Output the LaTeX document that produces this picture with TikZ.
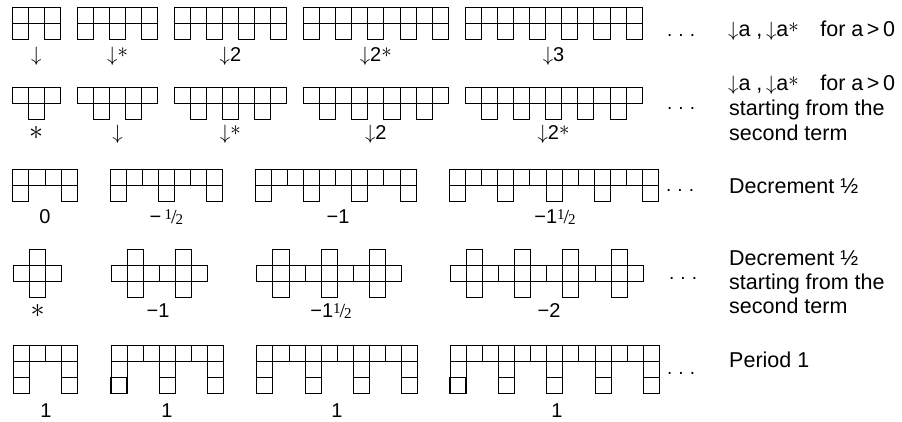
\documentclass[tikz,border=0pt]{standalone}
\usepackage{graphicx}
\usepackage{fontspec}
\setmainfont{Liberation Sans}
\newfontfamily\serifx{Liberation Serif}
\newcommand{\halfsym}{{\serifx\raisebox{0.42ex}{\fontsize{15}{15}\selectfont 1}\kern-1pt{\fontsize{20}{20}\selectfont/}\kern-1pt\raisebox{-0.2ex}{\fontsize{15}{15}\selectfont 2}}}
\newcommand{\stsup}{\raisebox{3.5pt}{\scalebox{1.45}{\fontsize{14}{14}\selectfont$\ast$}}}
\newcommand{\stalone}{\scalebox{1.35}{$\ast$}}
\begin{document}
\begin{tikzpicture}[x=1pt,y=-1pt,
  cellln/.style={draw=black,line width=0.75pt},
  thickcell/.style={draw=black,line width=1.3pt},
  lab/.style={anchor=base,inner sep=0pt,font=\fontsize{20}{20}\selectfont},
  side/.style={anchor=base west,inner sep=0pt,font=\fontsize{21.5}{21.5}\selectfont},
  dotty/.style={anchor=base west,inner sep=0pt,font=\fontsize{19}{19}\selectfont}]
\useasboundingbox (0,0) rectangle (902,421);
\def\cellsz{16.1}

% Row 1
\foreach \L/\n in {12/3,77.3/5,174/7,303.3/9,465/11}{
  \pgfmathtruncatemacro\lastc{\n-1}
  \pgfmathtruncatemacro\kk{(\n-1)/2}
  \foreach \c in {0,...,\lastc} \draw[cellln] (\L+\c*\cellsz,7.3) rectangle ++(\cellsz,\cellsz);
  \foreach \j in {0,...,\kk} \draw[cellln] (\L+2*\j*\cellsz,7.3+\cellsz) rectangle ++(\cellsz,\cellsz);
}
% Row 2
\foreach \L/\n in {12/3,77.3/5,174/7,303.3/9,465/11}{
  \pgfmathtruncatemacro\lastc{\n-1}
  \pgfmathtruncatemacro\kk{(\n-1)/2}
  \foreach \c in {0,...,\lastc} \draw[cellln] (\L+\c*\cellsz,87.3) rectangle ++(\cellsz,\cellsz);
  \foreach \j in {1,...,\kk} \draw[cellln] (\L+2*\j*\cellsz-\cellsz,87.3+\cellsz) rectangle ++(\cellsz,\cellsz);
}
% Row 3
\foreach \L/\n in {12.7/4,110/7,255/10,449.3/13}{
  \pgfmathtruncatemacro\lastc{\n-1}
  \pgfmathtruncatemacro\kk{(\n-1)/3}
  \foreach \c in {0,...,\lastc} \draw[cellln] (\L+\c*\cellsz,169.3) rectangle ++(\cellsz,\cellsz);
  \foreach \j in {0,...,\kk} \draw[cellln] (\L+3*\j*\cellsz,169.3+\cellsz) rectangle ++(\cellsz,\cellsz);
}
% Row 4
\foreach \L/\n in {13.3/3,111/6,256.7/9,450/12}{
  \pgfmathtruncatemacro\lastc{\n-1}
  \pgfmathtruncatemacro\kk{\n/3-1}
  \foreach \c in {0,...,\lastc} \draw[cellln] (\L+\c*\cellsz,265) rectangle ++(\cellsz,\cellsz);
  \foreach \j in {0,...,\kk} {
    \draw[cellln] (\L+3*\j*\cellsz+\cellsz,265-\cellsz) rectangle ++(\cellsz,\cellsz);
    \draw[cellln] (\L+3*\j*\cellsz+\cellsz,265+\cellsz) rectangle ++(\cellsz,\cellsz);
  }
}
% Row 5
\foreach \L/\n in {13.3/4,111/7,256.7/10,450/13}{
  \pgfmathtruncatemacro\lastc{\n-1}
  \pgfmathtruncatemacro\kk{(\n-1)/3}
  \foreach \c in {0,...,\lastc} \draw[cellln] (\L+\c*\cellsz,345) rectangle ++(\cellsz,\cellsz);
  \foreach \j in {0,...,\kk} {
    \draw[cellln] (\L+3*\j*\cellsz,345+\cellsz) rectangle ++(\cellsz,\cellsz);
    \draw[cellln] (\L+3*\j*\cellsz,345+2*\cellsz) rectangle ++(\cellsz,\cellsz);
  }
  \draw[thickcell] (\L,345+2*\cellsz) rectangle ++(\cellsz,\cellsz);
}

% Labels row 1
\node[lab] (a1) at (36.2,61) {$\downarrow$};
\node[lab] (a2) at (117.6,61) {$\downarrow$\stsup};
\node[lab] (a3) at (230.4,61) {$\downarrow$2};
\node[lab] (a4) at (375.8,61) {$\downarrow$2\stsup};
\node[lab] (a5) at (553.5,61) {$\downarrow$3};
% Labels row 2
\node[lab] (b1) at (36.2,139) {\stalone};
\node[lab] (b2) at (117.6,139) {$\downarrow$};
\node[lab] (b3) at (230.4,139) {$\downarrow$\stsup};
\node[lab] (b4) at (375.8,139) {$\downarrow$2};
\node[lab] (b5) at (553.5,139) {$\downarrow$2\stsup};
% Labels row 3
\node[lab] (c1) at (45,223) {0};
\node[lab] (c2) at (166.4,223) {−\,\halfsym};
\node[lab] (c3) at (338,223) {−1};
\node[lab] (c4) at (555,223) {−1\halfsym};
% Labels row 4
\node[lab] (d1) at (37.5,317) {\stalone};
\node[lab] (d2) at (158,317) {−1};
\node[lab] (d3) at (331,317) {−1\halfsym};
\node[lab] (d4) at (549,317) {−2};
% Labels row 5
\node[lab] (e1) at (46,417) {1};
\node[lab] (e2) at (167,417) {1};
\node[lab] (e3) at (337,417) {1};
\node[lab] (e4) at (557,417) {1};

% Dots
\node[dotty] (n1) at (667,36) {.\kern6pt.\kern6pt.};
\node[dotty] (n2) at (667,109) {.\kern6pt.\kern6pt.};
\node[dotty] (n3) at (666,191) {.\kern6pt.\kern6pt.};
\node[dotty] (n4) at (669,279) {.\kern6pt.\kern6pt.};
\node[dotty] (n5) at (667,374) {.\kern6pt.\kern6pt.};

% Side text
\node[side] (t1) at (728,36) {$\downarrow$a ,\,$\downarrow$a\stsup\quad for a\,>\,0};
\node[side] (t2a) at (728,90) {$\downarrow$a ,\,$\downarrow$a\stsup\quad for a\,>\,0};
\node[side] (t2b) at (729,115) {starting from the};
\node[side] (t2c) at (729,140) {second term};
\node[side] (t3) at (729,193) {Decrement ½};
\node[side] (t4a) at (729,265) {Decrement ½};
\node[side] (t4b) at (729,289) {starting from the};
\node[side] (t4c) at (729,313) {second term};
\node[side] (t5) at (729,367) {Period 1};
\end{tikzpicture}
\end{document}
